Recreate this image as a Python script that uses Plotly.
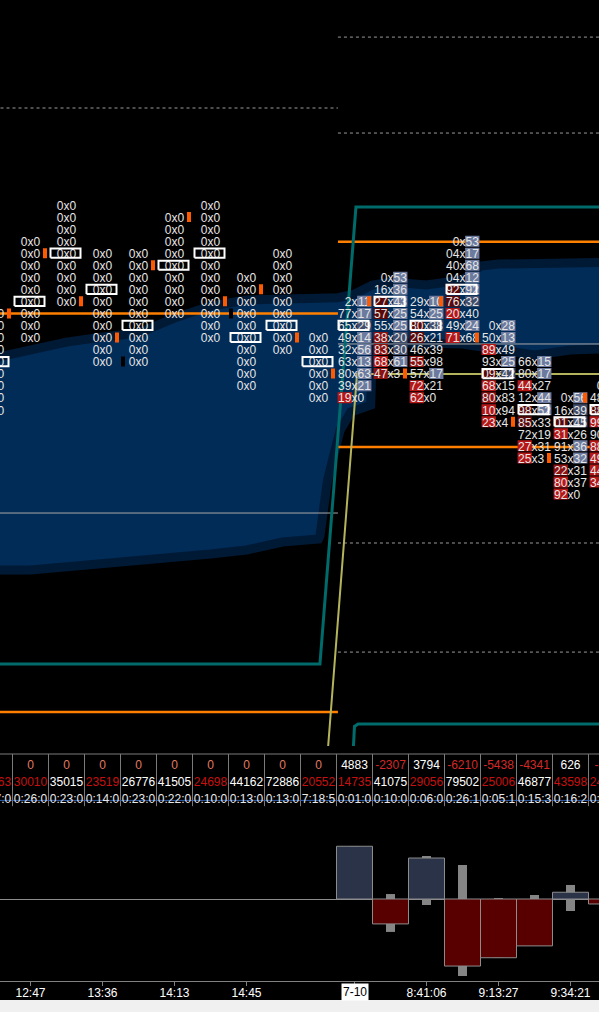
import plotly.graph_objects as go

FONT = "Liberation Sans"

# ---------------- footprint data (column index k, price level p) ----------------
fp_k = [-1, 0, 1, 2, 3, 4, 5, 6, 7, 8, 9, 10, 11, 12, 13, 14, 15, 16]
fp_top = [91, 97, 100, 96, 96, 99, 100, 94, 96, 89, 92, 94, 92, 97, 90, 87, 84, 85]
fp_cells = [
    ["0x0", "0x0", "0x0", "0x0", "0x0", "0x0", "0x0", "0x0", "0x0"],
    ["0x0", "0x0", "0x0", "0x0", "0x0", "0x0", "0x0", "0x0", "0x0"],
    ["0x0", "0x0", "0x0", "0x0", "0x0", "0x0", "0x0", "0x0", "0x0"],
    ["0x0", "0x0", "0x0", "0x0", "0x0", "0x0", "0x0", "0x0", "0x0", "0x0"],
    ["0x0", "0x0", "0x0", "0x0", "0x0", "0x0", "0x0", "0x0", "0x0", "0x0"],
    ["0x0", "0x0", "0x0", "0x0", "0x0", "0x0", "0x0", "0x0", "0x0"],
    ["0x0", "0x0", "0x0", "0x0", "0x0", "0x0", "0x0", "0x0", "0x0", "0x0", "0x0", "0x0"],
    ["0x0", "0x0", "0x0", "0x0", "0x0", "0x0", "0x0", "0x0", "0x0", "0x0"],
    ["0x0", "0x0", "0x0", "0x0", "0x0", "0x0", "0x0", "0x0", "0x0"],
    ["0x0", "0x0", "0x0", "0x0", "0x0", "0x0"],
    ["2x11", "77x17", "65x29", "49x14", "32x56", "63x13", "80x63", "39x21", "19x0"],
    ["0x53", "16x36", "27x43", "57x25", "55x25", "38x20", "83x30", "68x61", "47x3"],
    ["29x10", "54x25", "80x38", "26x21", "46x39", "55x98", "57x17", "72x21", "62x0"],
    ["0x53", "04x17", "40x68", "04x12", "92x92", "76x32", "20x40", "49x24", "71x68"],
    ["0x28", "50x13", "89x49", "93x25", "09x42", "68x15", "80x83", "10x94", "23x4"],
    ["66x15", "80x17", "44x27", "12x44", "98x52", "85x33", "72x19", "27x31", "25x3"],
    ["0x56", "16x39", "01x45", "31x26", "91x36", "53x32", "22x31", "80x37", "92x0"],
    ["0x", "48x", "88x", "99x", "90x", "88x", "49x", "44x", "34x"],
]
fp_bid_lvl = ["000000000", "000000000", "000000000", "0000000000", "0000000000",
              "000000000", "000000000000", "0000000000", "000000000", "000000",
              "000000003", "001102232", "001102033", "000011303", "003013233",
              "003011033", "001300233", "001303333"]
fp_ask_lvl = ["000000000", "000000000", "000000000", "0000000000", "0000000000",
              "000000000", "000000000000", "0000000000", "000000000", "000000",
              "221222220", "222221120", "221000200", "222221020", "220210000",
              "220220000", "211022000", "000000000"]

box_k = [-1, 0, 1, 2, 3, 4, 5, 6, 7, 8, 9, 10, 11, 12, 13, 14, 15, 16]
box_p = [87, 92, 96, 93, 90, 95, 96, 89, 90, 87, 90, 92, 90, 93, 86, 83, 82, 83]

omark_k = [-1, 0, 1, 2, 3, 4, 5, 6, 7, 8, 9, 10, 11, 12, 13, 14, 15]
omark_p = [91, 96, 92, 89, 95, 99, 92, 93, 89, 86, 92, 86, 92, 89, 82, 79, 84]
bmark_k = [2, 5, 15]
bmark_p = [87, 91, 85]

# ---------------- profile cloud (k, price) ----------------
area_k = [-0.9, 0, 1, 2, 3, 4, 5, 6, 7, 8, 8.54, 9, 9.5, 10, 11, 12, 12.5, 13, 14, 16.5,
          16.5, 15, 14, 13, 12.3, 12, 11, 9.5, 9.45, 8.9, 8.6, 8.25, 8.04, 8, 7, 6, 5, 4, 3, 2, 1, 0, -0.9]
area_p = [87.38, 88.04, 88.62, 89.04, 89.37, 90.61, 91.61, 92.11, 92.19, 92.19, 92.3, 92.61, 93.36, 93.6, 93.36, 93.77, 94.93, 95.1, 95.18, 95.27,
          88.12, 87.96, 87.54, 87.96, 88.37, 88.46, 88.54, 88.54, 83.39, 82.81, 81.31, 77.16, 72.51, 72.26, 72.01, 71.35, 71.01, 70.76, 70.51, 70.27, 70.02, 69.68, 69.68]

# ---------------- level lines ----------------
session_split = 8.54
orange_left = [91.0, 57.89]
orange_right = [96.95, 79.9]
gray_left = [74.42]
gray_right = [88.46]
dotted_left = [108.06]
dotted_right = [113.95, 105.98, 71.93, 62.87]
teal_k = [-1, 8.04, 9.04, 16.5]
teal_p = [61.88, 61.88, 99.83, 99.83]
teal2_k = [8.96, 9.0, 9.1, 16.5]
teal2_p = [54.5, 56.7, 56.89, 56.89]
yellow_k = [8.26, 9.07, 16.5]
yellow_p = [54.73, 85.96, 85.96]

# ---------------- table ----------------
tbl_k = [-1, 0, 1, 2, 3, 4, 5, 6, 7, 8, 9, 10, 11, 12, 13, 14, 15, 16]
tbl_delta = ["0", "0", "0", "0", "0", "0", "0", "0", "0", "0",
             "4883", "-2307", "3794", "-6210", "-5438", "-4341", "626", "-460"]
tbl_vol = ["41263", "30010", "35015", "23519", "26776", "41505", "24698", "44162", "72886",
           "20552", "14735", "41075", "29056", "79502", "25006", "46877", "43598", "24210"]
tbl_vol_red = [1, 1, 0, 1, 0, 0, 1, 0, 0, 1, 1, 0, 1, 0, 1, 0, 1, 1]
tbl_time = ["0:17:0", "0:26:0", "0:23:0", "0:14:0", "0:23:0", "0:22:0", "0:10:0", "0:13:0",
            "0:13:0", "7:18:5", "0:01:0", "0:10:0", "0:06:0", "0:26:1", "0:05:1", "0:15:3",
            "0:16:2", "0:04:1"]

# ---------------- delta histogram ----------------
hist_k = [9, 10, 11, 12, 13, 14, 15, 16]
hist_delta = [4883, -2307, 3794, -6210, -5438, -4341, 626, -460]
hist_max = [4883, 460, 3980, 3150, 90, 370, 1300, 0]
hist_min = [0, -3050, -555, -7130, -5438, -4341, -1110, -460]

tick_k = [0, 2, 4, 6, 9, 11, 13, 15]
tick_lbl = ["12:47", "13:36", "14:13", "14:45", "7-10", "8:41:06", "9:13:27", "9:34:21"]
session_start_k = 9

# ---------------- styling constants ----------------
PXX = 1 / 36.0      # x data units per pixel
PXY = 1 / 12.04     # price units per pixel
DIG = 6.67          # digit width px
GAP = 3.1           # half width of the "x"
TDY = 1.8 * PXY     # text baseline nudge
TXT = "#e6e6e6"
RED = {1: "#5a0909", 2: "#8c1111", 3: "#b51616"}
BLU = {1: "#414d6b", 2: "#6b7a9e"}

fig = go.Figure()

# cloud
fig.add_trace(go.Scatter(x=area_k, y=area_p, mode="lines", fill="toself",
                         fillcolor="#002c57", line=dict(color="#001a36", width=9),
                         hoverinfo="skip"))


def level_lines(levels, x0, x1):
    xs, ys = [], []
    for v in levels:
        xs += [x0, x1, None]
        ys += [v, v, None]
    return xs, ys


for levels, x0, x1, color, width, dash in [
    (dotted_left, -1, session_split, "#9a9a9a", 1, "dot"),
    (dotted_right, session_split, 16.5, "#9a9a9a", 1, "dot"),
    (gray_left, -1, session_split, "#a8a8a8", 1, "solid"),
    (gray_right, session_split, 16.5, "#a8a8a8", 1, "solid"),
    (orange_left, -1, session_split, "#ff8000", 2.5, "solid"),
    (orange_right, session_split, 16.5, "#ff8000", 2.5, "solid"),
]:
    xs, ys = level_lines(levels, x0, x1)
    fig.add_trace(go.Scatter(x=xs, y=ys, mode="lines",
                             line=dict(color=color, width=width, dash=dash), hoverinfo="skip"))

fig.add_trace(go.Scatter(x=teal_k, y=teal_p, mode="lines", line=dict(color="#006b6b", width=3), hoverinfo="skip"))
fig.add_trace(go.Scatter(x=teal2_k, y=teal2_p, mode="lines", line=dict(color="#006b6b", width=3), hoverinfo="skip"))
fig.add_trace(go.Scatter(x=yellow_k, y=yellow_p, mode="lines", line=dict(color="#b4b45c", width=2), hoverinfo="skip"))

# cell backgrounds and texts
bg = {("r", l): ([], []) for l in RED}
bg.update({("b", l): ([], []) for l in BLU})
bid_x, bid_y, bid_t = [], [], []
ask_x, ask_y, ask_t = [], [], []
mid_x, mid_y = [], []
hh = 5.5 * PXY
for k, top, cells, bl, al in zip(fp_k, fp_top, fp_cells, fp_bid_lvl, fp_ask_lvl):
    for i, cell in enumerate(cells):
        p = top - i
        bid, ask = cell.split("x")
        lb, la = int(bl[i]), int(al[i])
        if bid:
            w = DIG * len(bid)
            bid_x.append(k - (GAP + w / 2) * PXX); bid_y.append(p - TDY); bid_t.append(bid)
            if lb:
                xs, ys = bg[("r", lb)]
                x0 = k - (GAP + w + 0.5) * PXX; x1 = k - (GAP - 0.5) * PXX
                xs += [x0, x1, x1, x0, x0, None]; ys += [p - hh, p - hh, p + hh, p + hh, p - hh, None]
        if ask:
            w = DIG * len(ask)
            ask_x.append(k + (GAP + w / 2) * PXX); ask_y.append(p - TDY); ask_t.append(ask)
            mid_x.append(k); mid_y.append(p - TDY)
            if la:
                xs, ys = bg[("b", la)]
                x0 = k + (GAP - 0.5) * PXX; x1 = k + (GAP + w + 0.5) * PXX
                xs += [x0, x1, x1, x0, x0, None]; ys += [p - hh, p - hh, p + hh, p + hh, p - hh, None]

for (side, lvl), (xs, ys) in bg.items():
    if xs:
        col = RED[lvl] if side == "r" else BLU[lvl]
        fig.add_trace(go.Scatter(x=xs, y=ys, mode="lines", fill="toself", fillcolor=col,
                                 line=dict(width=0, color=col), hoverinfo="skip"))

tf = dict(family=FONT, size=12, color=TXT)
fig.add_trace(go.Scatter(x=bid_x, y=bid_y, text=bid_t, mode="text", textfont=tf, hoverinfo="skip"))
fig.add_trace(go.Scatter(x=mid_x, y=mid_y, text=["x"] * len(mid_x), mode="text", textfont=tf, hoverinfo="skip"))
fig.add_trace(go.Scatter(x=ask_x, y=ask_y, text=ask_t, mode="text", textfont=tf, hoverinfo="skip"))

# boxes
bx, by = [], []
for k, p in zip(box_k, box_p):
    x0 = k - 16 * PXX; x1 = k + 14 * PXX
    y0 = p - 4.6 * PXY; y1 = p + 4.6 * PXY
    bx += [x0, x1, x1, x0, x0, None]; by += [y0, y0, y1, y1, y0, None]
fig.add_trace(go.Scatter(x=bx, y=by, mode="lines", line=dict(color="#ffffff", width=2), hoverinfo="skip"))


def marks(ks, ps, off):
    xs, ys = [], []
    for k, p in zip(ks, ps):
        x0 = k + (off - 2) * PXX; x1 = k + (off + 2) * PXX
        y0 = p - 5 * PXY; y1 = p + 5 * PXY
        xs += [x0, x1, x1, x0, x0, None]; ys += [y0, y0, y1, y1, y0, None]
    return xs, ys


xs, ys = marks(omark_k, omark_p, 14.5)
fig.add_trace(go.Scatter(x=xs, y=ys, mode="lines", fill="toself", fillcolor="#ff5a00",
                         line=dict(width=0, color="#ff5a00"), hoverinfo="skip"))
xs, ys = marks(bmark_k, bmark_p, 20.5)
fig.add_trace(go.Scatter(x=xs, y=ys, mode="lines", fill="toself", fillcolor="#000000",
                         line=dict(width=0, color="#000000"), hoverinfo="skip"))

# ---------------- table ----------------
gx, gy = [], []
for k in tbl_k[1:]:
    gx += [k - 0.5, k - 0.5, None]; gy += [3.588, 0.52, None]
gx += [-1, 16.5, None]; gy += [3.588, 3.588, None]
fig.add_trace(go.Scatter(x=gx, y=gy, mode="lines", line=dict(color="#7a7a7a", width=1),
                         xaxis="x", yaxis="y3", hoverinfo="skip"))
fig.add_trace(go.Scatter(x=[-1, 16.5], y=[0.86, 0.86], mode="lines", line=dict(color="#2f5fb0", width=1),
                         xaxis="x", yaxis="y3", hoverinfo="skip"))

delta_cols = ["#e07a60" if v == "0" else ("#d42828" if v.startswith("-") else "#ffffff") for v in tbl_delta]
vol_cols = ["#c81010" if r else "#ffffff" for r in tbl_vol_red]
for row_y, texts, cols in [(3, tbl_delta, delta_cols), (2, tbl_vol, vol_cols),
                           (1, tbl_time, ["#e8e8e8"] * len(tbl_time))]:
    fig.add_trace(go.Scatter(x=tbl_k, y=[row_y - 0.11] * len(tbl_k), text=texts, mode="text",
                             textfont=dict(family=FONT, size=12, color=cols),
                             xaxis="x", yaxis="y3", hoverinfo="skip"))

# ---------------- histogram ----------------
fig.add_trace(go.Bar(x=hist_k, y=[a - b for a, b in zip(hist_max, hist_min)], base=hist_min,
                     width=0.25, marker=dict(color="#858585", line=dict(width=0)),
                     xaxis="x2", yaxis="y2", hoverinfo="skip"))
fig.add_trace(go.Bar(x=hist_k, y=hist_delta, width=1.0,
                     marker=dict(color=["#2b3348" if v >= 0 else "#580000" for v in hist_delta],
                                 line=dict(color="#8c8c8c", width=1)),
                     xaxis="x2", yaxis="y2", hoverinfo="skip"))

H = 1012.0
xr = [-30.5 / 36, (599 - 30.5) / 36]
fig.update_layout(
    width=599, height=1012, margin=dict(l=0, r=0, t=0, b=0),
    paper_bgcolor="#000000", plot_bgcolor="#000000", showlegend=False,
    barmode="overlay",
    xaxis=dict(domain=[0, 1], range=xr, visible=False, anchor="y"),
    yaxis=dict(domain=[1 - 746 / H, 1], range=[55.07, 117.03], visible=False, anchor="x"),
    yaxis3=dict(domain=[1 - 808 / H, 1 - 748 / H], range=[0.4118, 3.941], visible=False, anchor="x"),
    xaxis2=dict(domain=[0, 1], range=xr, anchor="y2", showgrid=False, zeroline=False,
                showline=True, linecolor="#808080", linewidth=1,
                ticks="outside", ticklen=4, tickcolor="#808080", ticklabelstandoff=-3,
                tickvals=tick_k, ticktext=["" if k == session_start_k else t for k, t in zip(tick_k, tick_lbl)],
                tickfont=dict(family=FONT, size=12, color="#ffffff")),
    yaxis2=dict(domain=[1 - 981 / H, 1 - 808 / H], range=[-7593, 8426], anchor="x2",
                showgrid=False, zeroline=True, zerolinecolor="#8c8c8c", zerolinewidth=1,
                showticklabels=False, ticks=""),
    annotations=[dict(x=session_start_k, xref="x2", y=1 - 992 / H, yref="paper",
                      text=tick_lbl[tick_k.index(session_start_k)], showarrow=False,
                      font=dict(family=FONT, size=12, color="#000000"),
                      bgcolor="#ffffff", borderpad=1, yanchor="middle")],
    shapes=[dict(type="rect", xref="paper", yref="paper", x0=0, x1=1, y0=0, y1=12 / H,
                 fillcolor="#f0f0f0", line=dict(width=0), layer="above")],
)

fig.write_html("out.html", config={"displayModeBar": False},
               post_script="document.body.style.margin='0px';document.body.style.overflow='hidden';")
